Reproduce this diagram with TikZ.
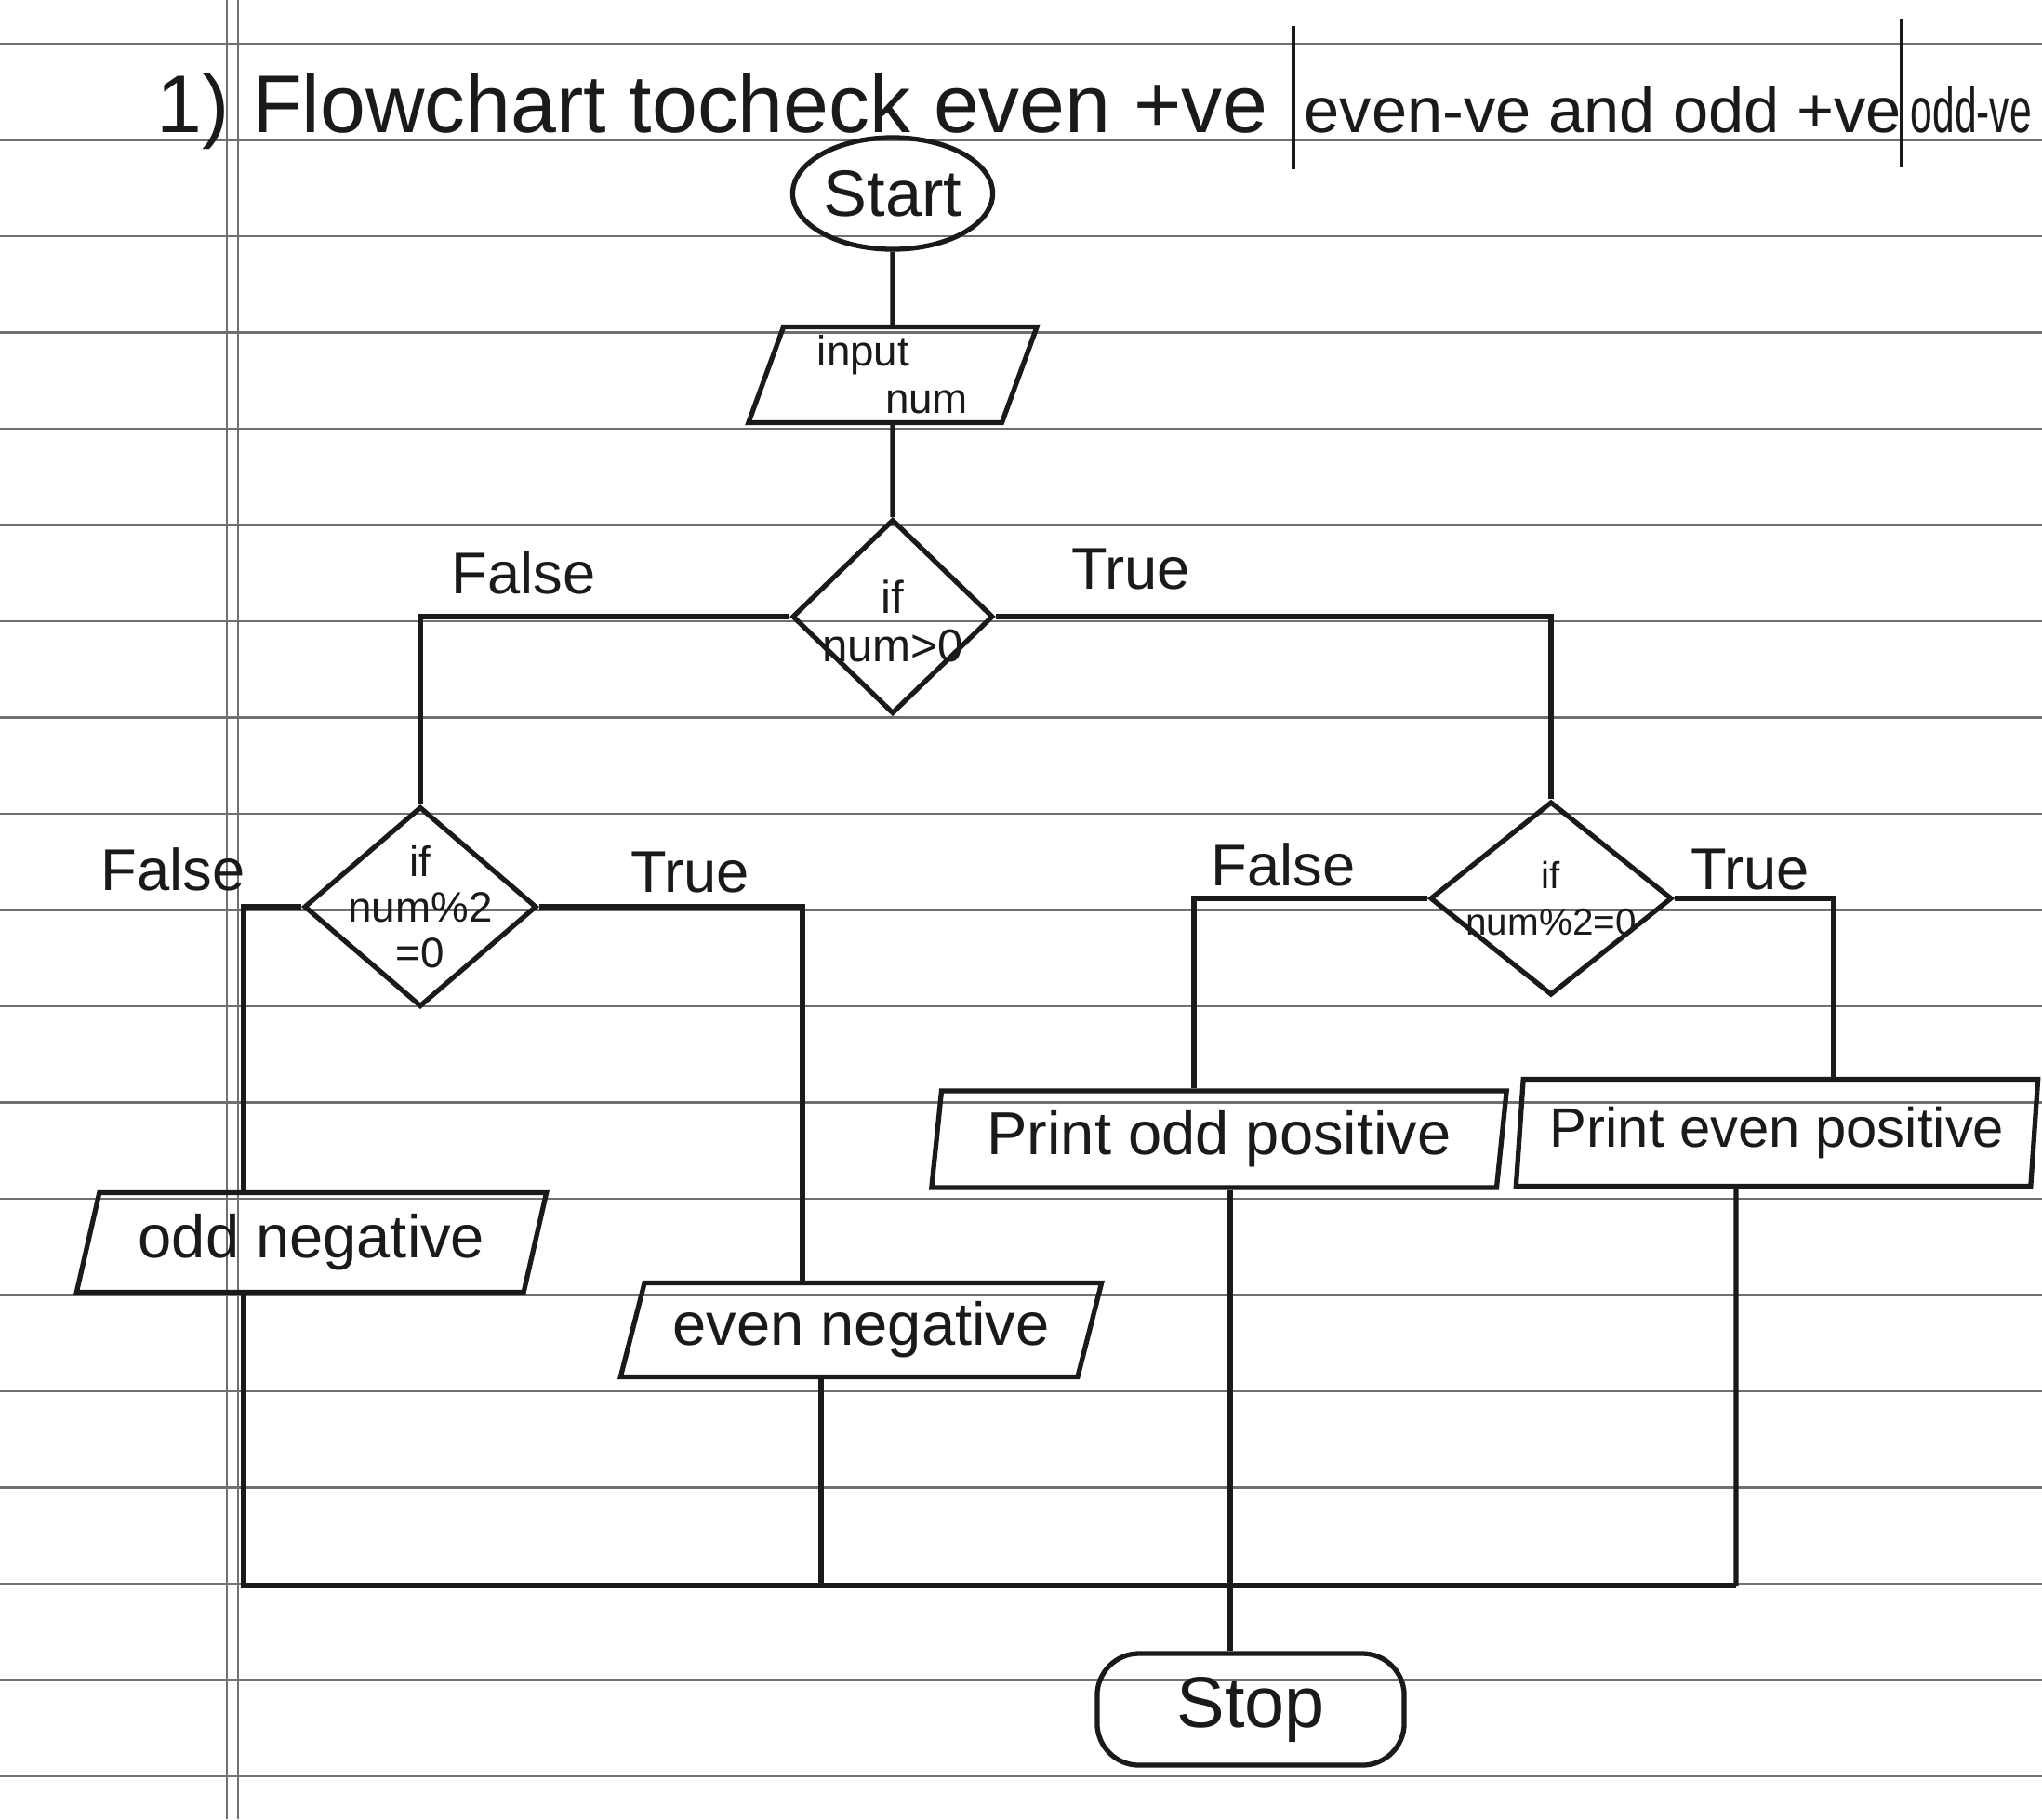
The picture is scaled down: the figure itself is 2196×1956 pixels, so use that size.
\documentclass[tikz,border=0pt]{standalone}
\usepackage{fontspec}
\setmainfont{Liberation Sans}
\usetikzlibrary{shapes.geometric,calc}
\definecolor{ink}{HTML}{1A1A1A}
\definecolor{paperrule}{HTML}{707070}
\begin{document}
\begin{tikzpicture}[x=0.01cm,y=-0.01cm,
  every node/.style={text=ink},
  shp/.style={draw=ink, line width=1.5pt},
  conn/.style={draw=ink, line width=1.5pt},
  term/.style={shp, ellipse, minimum width=2.15cm, minimum height=1.2cm, inner sep=0pt, font=\fontsize{20}{24}\selectfont},
  io/.style={shp, trapezium, trapezium stretches body, inner sep=0pt, font=\fontsize{18.5}{22}\selectfont},
  dec/.style={shp, diamond, inner sep=0pt},
  dtext/.style={align=center, font=\fontsize{14}{15}\selectfont, inner sep=0pt},
  lbl/.style={font=\fontsize{18}{22}\selectfont, inner sep=0pt},
  ruled/.style={draw=paperrule, line width=0.7pt},
  titletext/.style={anchor=base west, inner sep=0pt}
]
\useasboundingbox (0,0) rectangle (2196,1956);
\fill[white] (0,0) rectangle (2196,1956);
\begin{scope}
\clip (0,0) rectangle (2196,1956);
% notebook ruling
\foreach \k in {0,...,18} \draw[ruled] (0,{47+103.5*\k}) -- (2196,{47+103.5*\k});
\draw[ruled] (244,0) -- (244,1956);
\draw[ruled] (256,0) -- (256,1956);

% title
\node[titletext, font=\fontsize{25}{30}\selectfont] (title1) at (168,142) {1) Flowchart tocheck even +ve};
\draw[ink, line width=1.3pt] (1391,28) -- (1391,182);
\node[titletext, font=\fontsize{19.5}{24}\selectfont] (title2) at (1402,142) {even-ve and odd +ve};
\draw[ink, line width=1.3pt] (2045,20) -- (2045,180);
\node[titletext, font=\fontsize{19.5}{24}\selectfont] (title3) at (2054,142) {\scalebox{0.62}[1]{odd-ve}};

% nodes
\node[term] (start) at (960,208) {Start};
\node[io, trapezium left angle=66, trapezium right angle=114, minimum width=3.1cm, minimum height=1.03cm, align=left, font=\fontsize{13}{14.5}\selectfont] (input) at (960,403) {input\\\hspace{1.6em}num};

\node[dec, minimum width=2.16cm, minimum height=2.09cm] (d1) at (960,663) {};
\node[dtext] (d1t) at ([yshift=-0.05cm]d1.center) {if\\num>0};

\node[dec, minimum width=2.5cm, minimum height=2.15cm] (d2) at (452,975) {};
\node[dtext, font=\fontsize{13}{14}\selectfont] (d2t) at (d2.center) {if\\num\%2\\=0};

\node[dec, minimum width=2.6cm, minimum height=2.08cm] (d3) at (1668,966) {};
\node[dtext, font=\fontsize{11.5}{14}\selectfont] (d3t) at (d3.center) {if\\num\%2=0};

\node[io, trapezium left angle=68, trapezium right angle=112, minimum width=5.05cm, minimum height=1.07cm] (oddneg) at (335,1336) {odd negative};
\node[io, trapezium left angle=67, trapezium right angle=113, minimum width=5.17cm, minimum height=1.01cm] (evenneg) at (926,1430) {even negative};
\node[io, trapezium left angle=80, trapezium right angle=100, minimum width=6.18cm, minimum height=1.04cm] (oddpos) at (1311,1225) {Print odd positive};
\node[io, trapezium left angle=82, trapezium right angle=98, minimum width=5.61cm, minimum height=1.15cm, font=\fontsize{17}{20}\selectfont] (evenpos) at (1911,1218) {Print even positive};

\node[shp, rounded corners=0.45cm, minimum width=3.3cm, minimum height=1.2cm, font=\fontsize{22}{26}\selectfont] (stop) at (1345,1838) {Stop};

% connectors
\draw[conn] (start.south) -- (input.north);
\draw[conn] (input.south) -- (d1.north);
\draw[conn] (d1.west) -| (d2.north);
\draw[conn] (d1.east) -| (d3.north);
\draw[conn] (d2.west) -| ([xshift=-0.73cm]oddneg.north);
\draw[conn] (d2.east) -| ([xshift=-0.63cm]evenneg.north);
\draw[conn] (d3.west) -| ([xshift=-0.27cm]oddpos.north);
\draw[conn] (d3.east) -| ([xshift=0.61cm]evenpos.north);

\coordinate (jr) at (1867,1705);
\draw[conn] ([xshift=-0.73cm]oddneg.south) |- (jr);
\draw[conn] ([xshift=-0.43cm]evenneg.south) -- ([xshift=-0.43cm]evenneg.south |- jr);
\draw[conn] ([xshift=-0.44cm]evenpos.south) -- (jr);
\draw[conn] ([xshift=0.12cm]oddpos.south) -- ([xshift=0.12cm]oddpos.south |- stop.north);

% branch labels
\node[lbl] (lf1) at (563,616) {False};
\node[lbl] (lt1) at (1216,612) {True};
\node[lbl] (lf2) at (186,935) {False};
\node[lbl] (lt2) at (742,938) {True};
\node[lbl] (lf3) at (1380,930) {False};
\node[lbl] (lt3) at (1882,935) {True};
\end{scope}
\end{tikzpicture}
\end{document}
